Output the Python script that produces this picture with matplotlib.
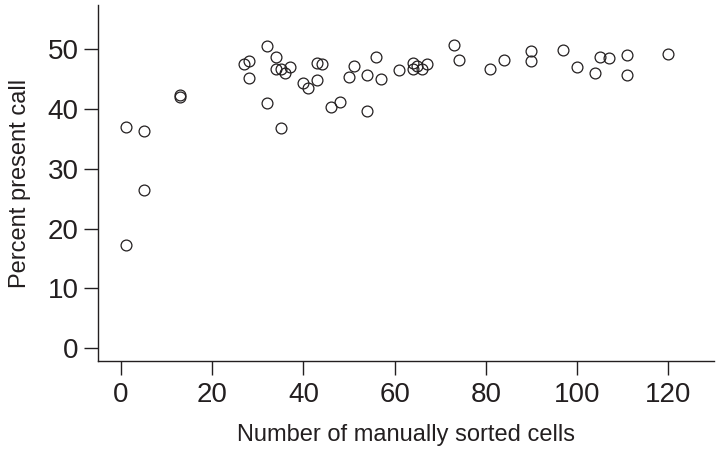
import matplotlib
matplotlib.use("Agg")
import matplotlib.pyplot as plt

# number of manually sorted cells vs percent present call
cells = [1, 5, 5, 1, 13, 13, 27, 28, 28, 32, 32, 34, 34, 35, 36, 37, 35,
         40, 41, 43, 43, 44, 46, 48, 51, 50, 54, 54, 56, 57, 61, 64, 64, 65,
         66, 67, 73, 74, 81, 84, 90, 90, 97, 100, 104, 105, 107, 111, 111, 120]
percent = [37.0, 36.3, 26.4, 17.2, 42.2, 41.9, 47.5, 47.9, 45.1, 50.5, 40.9,
           48.7, 46.7, 46.55, 46.0, 46.9, 36.7, 44.3, 43.4, 44.8, 47.6, 47.5,
           40.3, 41.1, 47.2, 45.3, 45.7, 39.55, 48.6, 44.9, 46.5, 47.7, 46.7,
           47.2, 46.55, 47.4, 50.55, 48.2, 46.6, 48.2, 49.7, 47.9, 49.8, 46.9,
           46.0, 48.6, 48.4, 48.9, 45.7, 49.1]

xticks = [0, 20, 40, 60, 80, 100, 120]
yticks = [0, 10, 20, 30, 40, 50]

plt.rcParams['font.family'] = ['Liberation Sans', 'DejaVu Sans']
ink = "#231f20"

fig = plt.figure(figsize=(7.2, 4.57), dpi=100)
ax = fig.add_axes([0.1365, 0.2101, 0.855, 0.779])

ax.plot(cells, percent, linestyle="none", marker="o", markersize=7.8,
        markerfacecolor="none", markeredgecolor=ink, markeredgewidth=0.9)

ax.set_xlim(-5, 130)
ax.set_ylim(-2.1, 57.3)
ax.set_xticks(xticks)
ax.set_yticks(yticks)

for side in ["top", "right"]:
    ax.spines[side].set_visible(False)
for side in ["left", "bottom"]:
    ax.spines[side].set_color(ink)
    ax.spines[side].set_linewidth(1.0)

ax.tick_params(axis="both", direction="out", length=10, width=1.0,
               color=ink, labelcolor=ink, labelsize=20)
ax.tick_params(axis="x", pad=5)
ax.tick_params(axis="y", pad=4)

ax.set_xlabel("Number of manually sorted cells", fontsize=17, color=ink,
              labelpad=12)
ax.set_ylabel("Percent present call", fontsize=17, color=ink, labelpad=12)

fig.savefig("out.png", dpi=100)
